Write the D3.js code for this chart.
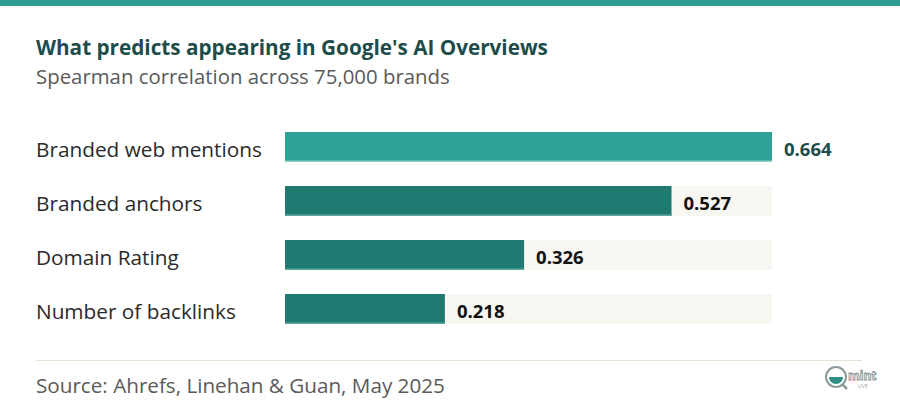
<!DOCTYPE html>
<html>
<head>
<meta charset="utf-8">
<script src="https://cdn.jsdelivr.net/npm/d3@7"></script>
<style>
  html, body { margin: 0; padding: 0; background: #ffffff; }
  svg { display: block; }
  text { font-family: "Open Sans", Lato, sans-serif; }
</style>
</head>
<body>
<svg id="chart" width="900" height="412"></svg>
<script>
const categories = ["Branded web mentions", "Branded anchors", "Domain Rating", "Number of backlinks"];
const values = [0.664, 0.527, 0.326, 0.218];
const valueLabels = ["0.664", "0.527", "0.326", "0.218"];
const titleText = "What predicts appearing in Google's AI Overviews";
const subtitleText = "Spearman correlation across 75,000 brands";
const sourceText = "Source: Ahrefs, Linehan & Guan, May 2025";

const svg = d3.select("#chart");
const W = 900, H = 412;

// top band
svg.append("rect").attr("x", 0).attr("y", 0).attr("width", W).attr("height", 6).attr("fill", "#2e9e94");

// fit text helper: scale font so text spans target width
function fitText(sel, targetW) {
  const node = sel.node();
  const w = node.getComputedTextLength();
  if (w > 0) {
    const fs = parseFloat(sel.attr("font-size"));
    sel.attr("font-size", (fs * targetW / w).toFixed(2));
  }
  return sel;
}

const title = svg.append("text").attr("x", 36).attr("y", 55)
  .attr("font-size", 19).attr("font-weight", 700).attr("fill", "#1d4d4a").text(titleText);
fitText(title, 512);

const sub = svg.append("text").attr("x", 36).attr("y", 84)
  .attr("font-size", 18).attr("fill", "#5a5a5a").text(subtitleText);
fitText(sub, 414);

const x = d3.scaleLinear().domain([0, 0.664]).range([285, 772]);
const yPos = d3.scaleBand().domain(categories).range([132, 324]).paddingInner(24 / 54).paddingOuter(0);

const g = svg.append("g");
const rows = g.selectAll("g.row").data(categories).join("g").attr("class", "row");

// background tracks
rows.append("rect")
  .attr("x", x(0)).attr("y", d => yPos(d))
  .attr("width", x(0.664) - x(0)).attr("height", yPos.bandwidth())
  .attr("fill", "#f8f6f1");

// bars
rows.append("rect")
  .attr("x", x(0)).attr("y", d => yPos(d))
  .attr("width", (d, i) => x(values[i]) - x(0)).attr("height", yPos.bandwidth())
  .attr("fill", (d, i) => i === 0 ? "#2fa096" : "#1f7a72");

// bottom light edge
rows.append("rect")
  .attr("x", x(0)).attr("y", d => yPos(d) + yPos.bandwidth() - 1.5)
  .attr("width", (d, i) => x(values[i]) - x(0)).attr("height", 1.5)
  .attr("fill", (d, i) => i === 0 ? "#8fd0c9" : "#5fa8a0");

// category labels
const labels = rows.append("text")
  .attr("class", "cat")
  .attr("x", 36).attr("y", d => yPos(d) + yPos.bandwidth() / 2 + 10)
  .attr("font-size", 19).attr("fill", "#2a2a2a")
  .text(d => d);
fitText(d3.select(labels.nodes()[0]), 226);
labels.attr("font-size", d3.select(labels.nodes()[0]).attr("font-size"));

// value labels
rows.append("text")
  .attr("x", (d, i) => x(values[i]) + 12)
  .attr("y", d => yPos(d) + yPos.bandwidth() / 2 + 9)
  .attr("font-size", 18.5).attr("font-weight", 700)
  .attr("fill", (d, i) => i === 0 ? "#1d4d4a" : "#111111")
  .text((d, i) => valueLabels[i]);

// divider
svg.append("line").attr("x1", 36).attr("x2", 862).attr("y1", 360.5).attr("y2", 360.5)
  .attr("stroke", "#e6e1d3").attr("stroke-width", 1);

const src = svg.append("text").attr("x", 36).attr("y", 393)
  .attr("font-size", 18).attr("fill", "#5a5a5a").text(sourceText);
fitText(src, 409);

// mint logo
const logo = svg.append("g").attr("transform", "translate(836,377)");
logo.append("circle").attr("r", 10).attr("fill", "#ffffff").attr("stroke", "#8a9a98").attr("stroke-width", 2);
logo.append("path").attr("d", "M-7,0 A7,7 0 0 0 7,0 Z").attr("fill", "#2f8f86");
logo.append("line").attr("x1", 6).attr("y1", 7).attr("x2", 11).attr("y2", 12).attr("stroke", "#8a9a98").attr("stroke-width", 2.5);
logo.append("text").attr("x", 12).attr("y", 3).attr("font-size", 12).attr("font-weight", 700)
  .attr("fill", "#ffffff").attr("stroke", "#7a8a88").attr("stroke-width", 0.8).text("mint");
logo.append("text").attr("x", 22).attr("y", 11).attr("font-size", 5).attr("fill", "#9aa").text("LIVE");
</script>
</body>
</html>
